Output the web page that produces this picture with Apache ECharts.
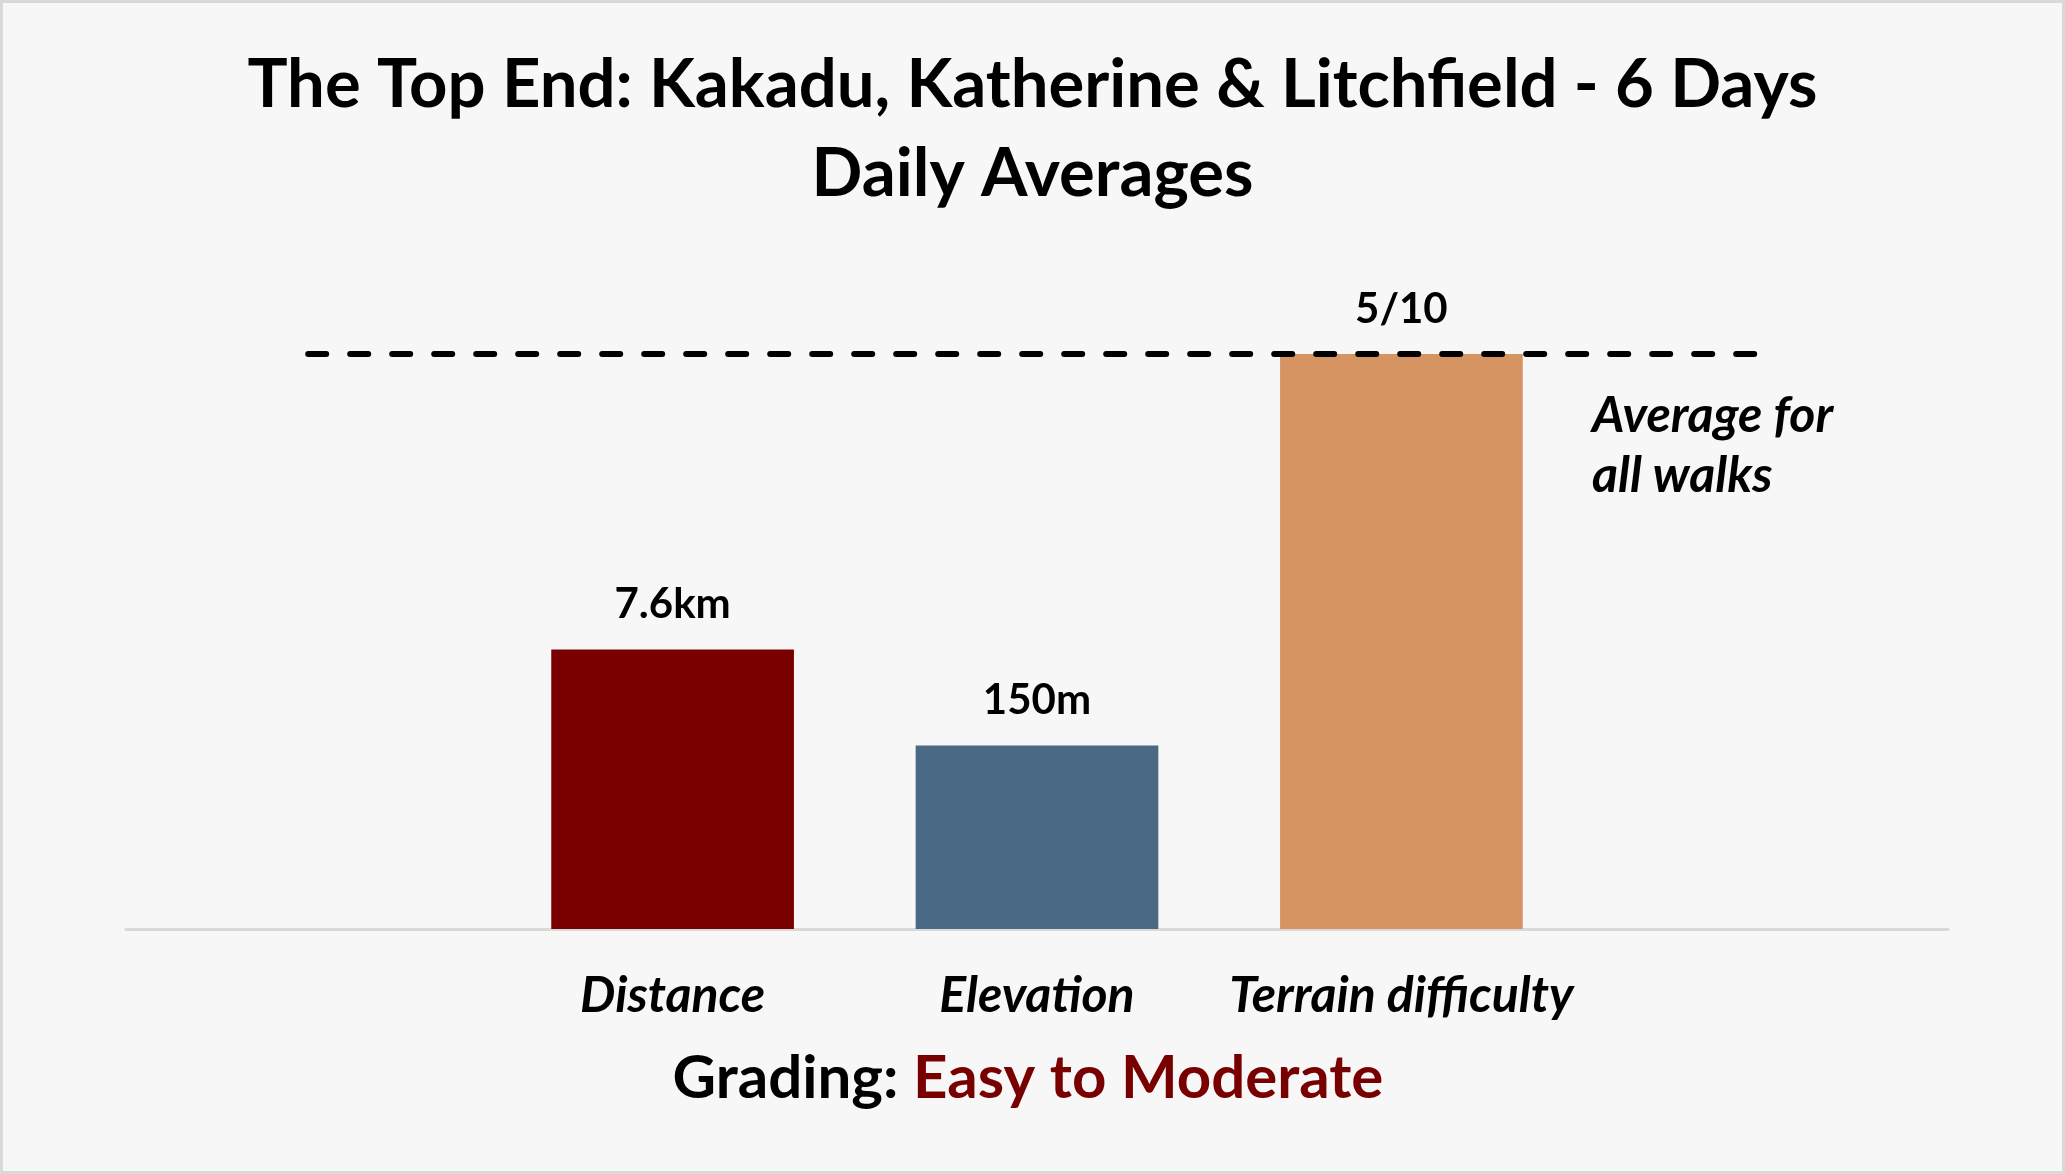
<!DOCTYPE html>
<html>
<head>
<meta charset="utf-8">
<script src="https://cdn.jsdelivr.net/npm/echarts@6/dist/echarts.min.js"></script>
<style>
  html, body { margin: 0; padding: 0; background: #F7F7F7; }
  #main { width: 2065px; height: 1174px; }
</style>
</head>
<body>
<div id="main"></div>
<script>
// daily averages, as % of the average for all walks
var categories = ["Distance", "Elevation", "Terrain difficulty"]
var values = [48.6, 31.9, 100]
var valueLabels = ["7.6km", "150m", "5/10"]
var barColors = ["#780000", "#4A6984", "#D79463"]
var averageForAllWalks = 100

var font = "Lato, 'Noto Sans', sans-serif"

// one empty slot either side, like the original layout
var xCats = [""].concat(categories, [""])
var barData = [null]
values.forEach(function (v, i) {
  barData.push({
    value: v,
    itemStyle: { color: barColors[i] },
    label: { formatter: valueLabels[i] },
  })
})
barData.push(null)
var avgData = xCats.map(function () { return averageForAllWalks })

var chart = echarts.init(document.getElementById("main"))

var option = {
  backgroundColor: "#F7F7F7",
  animation: false,
  title: {
    text: "The Top End: Kakadu, Katherine & Litchfield - 6 Days\nDaily Averages",
    left: "center",
    top: 36,
    textStyle: {
      fontFamily: font,
      fontWeight: "bold",
      fontSize: 67,
      lineHeight: 89,
      color: "#000",
    },
  },
  grid: {
    left: 126,
    right: 117,
    top: 354,
    bottom: 245,
  },
  xAxis: {
    type: "category",
    data: xCats,
    axisTick: { show: false },
    axisLine: { lineStyle: { color: "#D9D9D9", width: 3 } },
    axisLabel: {
      interval: 0,
      hideOverlap: false,
      margin: 42,
      fontFamily: font,
      fontStyle: "italic",
      fontWeight: "bold",
      fontSize: 50,
      color: "#000",
    },
  },
  yAxis: {
    type: "value",
    min: 0,
    max: 100,
    show: false,
  },
  series: [
    {
      type: "bar",
      data: barData,
      barWidth: "66.6%",
      label: {
        show: true,
        position: "top",
        distance: 24,
        fontFamily: font,
        fontWeight: "bold",
        fontSize: 42,
        color: "#000",
      },
    },
    {
      type: "line",
      data: avgData,
      symbol: "none",
      silent: true,
      z: 3,
      lineStyle: {
        color: "#000",
        width: 6,
        type: [18, 24],
        cap: "round",
      },
    },
  ],
  graphic: [
    {
      type: "rect",
      shape: { x: 1.5, y: 1.5, width: 2062, height: 1171 },
      style: { fill: null, stroke: "#D9D9D9", lineWidth: 3 },
      silent: true,
    },
    {
      type: "text",
      left: 1592,
      top: 386,
      style: {
        text: "Average for\nall walks",
        fontFamily: font,
        fontStyle: "italic",
        fontWeight: "bold",
        fontSize: 50,
        lineHeight: 60,
        fill: "#000",
      },
    },
    {
      type: "text",
      x: 1028,
      y: 1079,
      style: {
        text: "{a|Grading: }{b|Easy to Moderate}",
        align: "center",
        verticalAlign: "middle",
        rich: {
          a: { fontFamily: font, fontWeight: "bold", fontSize: 60, fill: "#000", color: "#000" },
          b: { fontFamily: font, fontWeight: "bold", fontSize: 60, fill: "#780000", color: "#780000" },
        },
      },
    },
  ],
}

chart.setOption(option)
</script>
</body>
</html>
